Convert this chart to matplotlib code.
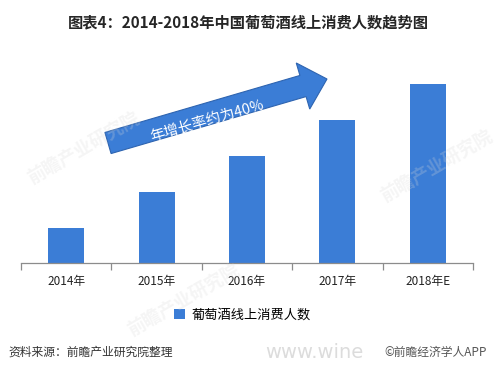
import matplotlib.pyplot as plt
from matplotlib.patches import FancyArrow
from matplotlib.transforms import IdentityTransform

plt.rcParams['font.family'] = ['Noto Sans CJK SC', 'DejaVu Sans']

# data
years = ['2014年', '2015年', '2016年', '2017年', '2018年E']
users = [35, 71, 107, 143, 179]
series_name = '葡萄酒线上消费人数'
title = '图表4：2014-2018年中国葡萄酒线上消费人数趋势图'
source = '资料来源：前瞻产业研究院整理'
growth_note = '年增长率约为40%'

W, H = 496, 371
blue = '#3b7dd6'

fig = plt.figure(figsize=(W / 100, H / 100), dpi=100)
fig.patch.set_facecolor('white')

ax = fig.add_axes([21 / W, (H - 263) / H, 452 / W, 200 / H])
x = range(len(years))
ax.bar(x, users, width=0.4, color=blue, label=series_name, zorder=2)
ax.set_xlim(-0.5, len(years) - 0.5)
ax.set_ylim(0, 200)
ax.patch.set_alpha(0)

for s in ['top', 'right', 'left']:
    ax.spines[s].set_visible(False)
ax.spines['bottom'].set_color('#8c8c8c')
ax.spines['bottom'].set_linewidth(0.9)
ax.set_yticks([])
ax.set_xticks([i - 0.5 for i in range(len(years) + 1)], minor=False)
ax.set_xticklabels([])
ax.tick_params(axis='x', which='major', length=5, color='#8c8c8c', width=0.9)
ax.set_xticks(list(x), minor=True)
ax.set_xticklabels(years, minor=True)
ax.tick_params(axis='x', which='minor', length=0, labelsize=8.5, pad=9, labelcolor='#222222')

leg = ax.legend(loc='upper center', bbox_to_anchor=(0.49, -0.17), frameon=False,
                fontsize=9.5, handlelength=0.8, handleheight=0.8, handletextpad=0.5)

fig.text(0.5, 1 - 22 / H, title, ha='center', va='center', fontsize=11,
         fontweight='bold', color='#262626')
fig.text(8 / W, 1 - 352 / H, source, ha='left', va='center', fontsize=8.5,
         color='#333333', style='italic')
fig.text(265 / W, 1 - 352 / H, 'www.wine', ha='left', va='center', fontsize=14,
         color='#dcdcdc', fontfamily='DejaVu Sans')
fig.text(487 / W, 1 - 352 / H, '©前瞻经济学人APP', ha='right', va='center',
         fontsize=8.5, color='#555555')

# growth arrow (pixel coordinates, y measured from the bottom)
tail = (108, H - 143)
tip = (327, H - 79)
arr = FancyArrow(tail[0], tail[1], tip[0] - tail[0], tip[1] - tail[1], width=22,
                 head_width=48, head_length=25, length_includes_head=True,
                 facecolor=blue, edgecolor='#2e64b0', linewidth=0.8,
                 transform=IdentityTransform(), zorder=5)
fig.patches.append(arr)
fig.text(207 / W, 1 - 121 / H, growth_note, ha='center', va='center', fontsize=10.5,
         color='white', rotation=16, rotation_mode='anchor', zorder=6)

# faint watermarks laid over everything
for (wx, wy, r) in [(0.17, 0.60, 30), (0.88, 0.55, 30), (0.37, 0.19, 30)]:
    fig.text(wx, wy, '前瞻产业研究院', fontsize=13, color='#d8d8d8', alpha=0.25,
             rotation=r, ha='center', va='center', fontweight='bold', zorder=10)

fig.savefig('out.png', dpi=100)
